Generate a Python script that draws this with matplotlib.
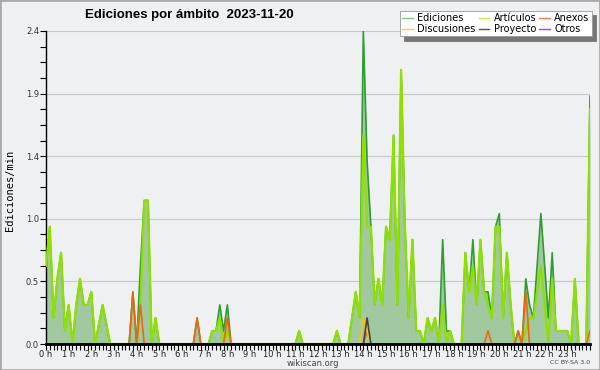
import numpy as np
import matplotlib.pyplot as plt
from matplotlib.lines import Line2D
from matplotlib.patches import Rectangle

# ediciones por minuto, tramos de 10 minutos (6 por hora) + punto final a las 24 h
ediciones = [
    0.6, 0.9, 0.2, 0.5, 0.7, 0.1,    # 0 h
    0.3, 0.0, 0.3, 0.5, 0.3, 0.3,    # 1 h
    0.4, 0.0, 0.15, 0.3, 0.15, 0.0,  # 2 h
    0.0, 0.0, 0.0, 0.0, 0.0, 0.4,    # 3 h
    0.0, 0.6, 1.1, 1.1, 0.0, 0.2,    # 4 h
    0.0, 0.0, 0.0, 0.0, 0.0, 0.0,    # 5 h
    0.0, 0.0, 0.0, 0.0, 0.2, 0.0,    # 6 h
    0.0, 0.0, 0.1, 0.1, 0.3, 0.1,    # 7 h
    0.3, 0.0, 0.0, 0.0, 0.0, 0.0,    # 8 h
    0.0, 0.0, 0.0, 0.0, 0.0, 0.0,    # 9 h
    0.0, 0.0, 0.0, 0.0, 0.0, 0.0,    # 10 h
    0.0, 0.1, 0.0, 0.0, 0.0, 0.0,    # 11 h
    0.0, 0.0, 0.0, 0.0, 0.0, 0.1,    # 12 h
    0.0, 0.0, 0.0, 0.2, 0.4, 0.2,    # 13 h
    2.4, 1.4, 0.9, 0.3, 0.5, 0.3,    # 14 h
    0.9, 0.8, 1.6, 0.3, 2.1, 0.9,    # 15 h
    0.2, 0.8, 0.1, 0.1, 0.0, 0.2,    # 16 h
    0.1, 0.2, 0.0, 0.8, 0.1, 0.1,    # 17 h
    0.0, 0.0, 0.0, 0.7, 0.4, 0.8,    # 18 h
    0.3, 0.8, 0.4, 0.4, 0.2, 0.9,    # 19 h
    1.0, 0.2, 0.7, 0.3, 0.0, 0.1,    # 20 h
    0.0, 0.5, 0.3, 0.2, 0.6, 1.0,    # 21 h
    0.6, 0.2, 0.7, 0.1, 0.1, 0.1,    # 22 h
    0.1, 0.0, 0.5, 0.0, 0.0, 0.0,    # 23 h
    1.9,
]

articulos = [
    0.6, 0.9, 0.2, 0.5, 0.7, 0.1,
    0.3, 0.0, 0.3, 0.5, 0.3, 0.3,
    0.4, 0.0, 0.15, 0.3, 0.15, 0.0,
    0.0, 0.0, 0.0, 0.0, 0.0, 0.0,
    0.0, 0.3, 1.1, 1.1, 0.0, 0.2,
    0.0, 0.0, 0.0, 0.0, 0.0, 0.0,
    0.0, 0.0, 0.0, 0.0, 0.0, 0.0,
    0.0, 0.0, 0.1, 0.1, 0.2, 0.0,
    0.1, 0.0, 0.0, 0.0, 0.0, 0.0,
    0.0, 0.0, 0.0, 0.0, 0.0, 0.0,
    0.0, 0.0, 0.0, 0.0, 0.0, 0.0,
    0.0, 0.1, 0.0, 0.0, 0.0, 0.0,
    0.0, 0.0, 0.0, 0.0, 0.0, 0.1,
    0.0, 0.0, 0.0, 0.2, 0.4, 0.2,
    1.6, 0.9, 0.9, 0.3, 0.5, 0.3,
    0.9, 0.8, 1.6, 0.3, 2.1, 0.9,
    0.2, 0.8, 0.1, 0.1, 0.0, 0.2,
    0.1, 0.2, 0.0, 0.3, 0.0, 0.1,
    0.0, 0.0, 0.0, 0.7, 0.4, 0.6,
    0.3, 0.8, 0.4, 0.3, 0.2, 0.9,
    0.9, 0.2, 0.7, 0.3, 0.0, 0.0,
    0.0, 0.1, 0.2, 0.2, 0.4, 0.6,
    0.3, 0.0, 0.5, 0.1, 0.1, 0.1,
    0.1, 0.0, 0.5, 0.0, 0.0, 0.0,
    1.8,
]

# series casi vacias: (tramo, valor)
anexos_pts = [(23, 0.4), (25, 0.3), (40, 0.2), (48, 0.2), (85, 0.1),
              (117, 0.1), (125, 0.1), (127, 0.4), (144, 0.1)]
discusiones_pts = [(84, 0.2), (85, 0.1)]
proyecto_pts = [(85, 0.2)]

hour_labels = [f'{h} h' for h in range(24)]


def sparse(pts, n):
    arr = np.zeros(n)
    for k, v in pts:
        arr[k] = v
    return arr


n = len(ediciones)
t = np.arange(n) / 6
anexos = sparse(anexos_pts, n)
discusiones = sparse(discusiones_pts, n)
proyecto = sparse(proyecto_pts, n)

bg = '#eff0f2'
fig = plt.figure(figsize=(6, 3.7), dpi=100, facecolor=bg)
ax = fig.add_axes([46 / 600, 26 / 370, 544 / 600, 313 / 370])
ax.set_facecolor(bg)

ax.fill_between(t, ediciones, color='#a0c9a0', lw=0, zorder=1)
ax.plot(t, ediciones, color='#2e9e2e', lw=1.2, zorder=3)
ax.plot(t, articulos, color='#8fe000', lw=1.6, zorder=4)
ax.plot(t, anexos, color='#ee6611', lw=1.2, zorder=5)
ax.plot(t, discusiones, color='#f5c518', lw=1.2, zorder=5)
ax.plot(t, proyecto, color='#444444', lw=1.2, zorder=6)

ax.set_xlim(0, 24)
ax.set_ylim(0, 2.4)

yt = np.linspace(0, 2.4, 6)
ax.set_yticks(yt)
ax.set_yticklabels([f'{v:.1f}' for v in yt])
ax.set_yticks(np.arange(0, 2.41, 0.12), minor=True)
ax.set_xticks(range(24))
ax.set_xticklabels(hour_labels)
ax.set_xticks(np.arange(0, 24.01, 1 / 6), minor=True)

ax.tick_params(axis='x', which='both', direction='out', length=4, width=0.8,
               labelsize=6, pad=0.5, labelcolor='#222')
ax.tick_params(axis='y', which='both', direction='out', length=4, width=0.8,
               labelsize=6, pad=1, labelcolor='#333')

ax.yaxis.grid(True, color='#c8c8c8', lw=0.8)
ax.set_axisbelow(True)
for s in ['top', 'right']:
    ax.spines[s].set_visible(False)
ax.spines['left'].set_linewidth(1)
ax.spines['bottom'].set_linewidth(2)
ax.spines['bottom'].set_zorder(10)

fig.text(85 / 600, 1 - 15 / 370, 'Ediciones por ámbito  2023-11-20',
         fontsize=9.5, fontweight='bold', family='Liberation Sans',
         ha='left', va='center')
fig.text(10 / 600, 0.486, 'Ediciones/min', rotation=90, fontsize=7.5,
         family='DejaVu Sans Mono', ha='center', va='center')
fig.text(313 / 600, 1 - 363 / 370, 'wikiscan.org', fontsize=6,
         color='#444', ha='center', va='center')
fig.text(590 / 600, 1 - 363 / 370, 'CC BY-SA 3.0', fontsize=4.5,
         color='#444', ha='right', va='center')

handles = [
    Line2D([], [], color='#80c880', lw=1),
    Line2D([], [], color='#ffcc33', lw=1),
    Line2D([], [], color='#c8ee50', lw=1),
    Line2D([], [], color='#555555', lw=1),
    Line2D([], [], color='#ff7f50', lw=1),
    Line2D([], [], color='#9944ee', lw=1),
]
labels = ['Ediciones', 'Discusiones', 'Artículos', 'Proyecto', 'Anexos', 'Otros']
leg = fig.legend(handles, labels, ncol=3, loc='upper right',
                 bbox_to_anchor=(592 / 600, 1 - 11 / 370), fontsize=7,
                 frameon=True, fancybox=False,
                 shadow={'color': '#777777', 'alpha': 1, 'ox': 3, 'oy': -3},
                 handlelength=1.1, handletextpad=0.45, columnspacing=0.3,
                 labelspacing=0.05, borderpad=0.25, borderaxespad=0)
leg.get_frame().set_edgecolor('#999999')
leg.get_frame().set_linewidth(0.6)

fig.add_artist(Rectangle((0, 0), 1, 1, transform=fig.transFigure,
                         fill=False, ec='#aaaaaa', lw=2))

fig.savefig('out.png', dpi=100, facecolor=bg)
